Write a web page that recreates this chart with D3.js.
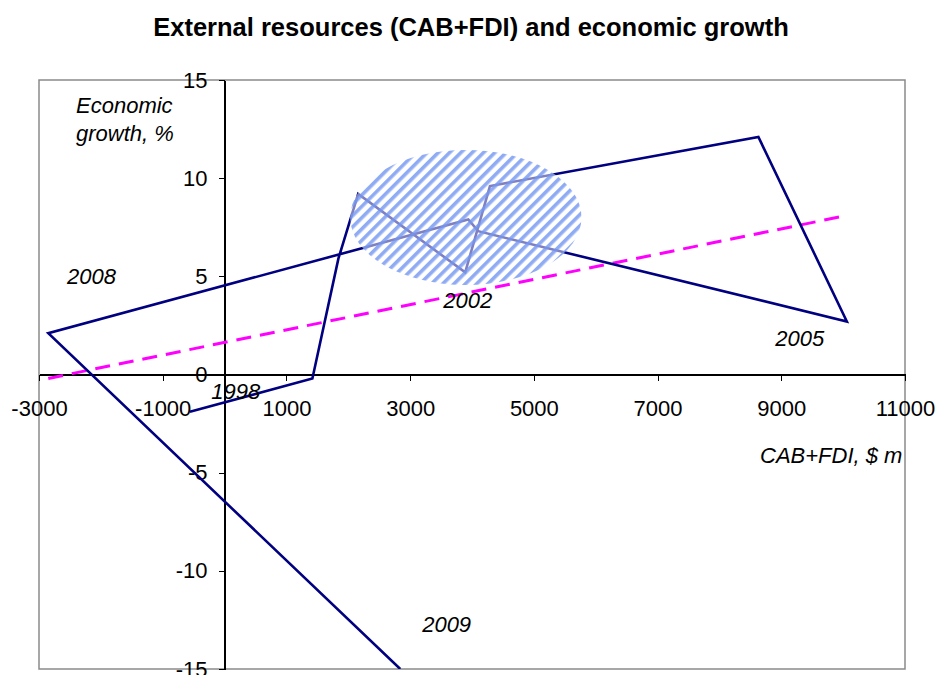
<!DOCTYPE html>
<html>
<head>
<meta charset="utf-8">
<script src="https://cdn.jsdelivr.net/npm/d3@7"></script>
<style>
  html, body { margin: 0; padding: 0; background: #fff; }
  svg { display: block; font-family: Arial, "Liberation Sans", sans-serif; }
</style>
</head>
<body>
<svg id="chart" width="937" height="675"></svg>
<script>
// ---- Data ----
const years   = [1998, 1999, 2000, 2001, 2002, 2003, 2004, 2005, 2006, 2007, 2008, 2009];
const cabFdi  = [-560, 1420, 1840, 2160, 3890, 4290, 8630, 10060, 4100, 3940, -2850, 2840];
const growth  = [-1.9, -0.2, 5.9, 9.2, 5.2, 9.6, 12.1, 2.7, 7.3, 7.9, 2.1, -15.0];

const trendX = [-2850, 10060];
const trendY = [-0.2, 8.1];

const xTicks = [-3000, -1000, 1000, 3000, 5000, 7000, 9000, 11000];
const yTicks = [-15, -10, -5, 0, 5, 10, 15];

const yearLabels  = ["2008", "1998", "2002", "2005", "2009"];
const yearLabelX  = [-2150, 180, 3930, 9300, 3590];
const yearLabelY  = [4.6, -1.25, 3.4, 1.45, -13.1];

const ellipseCenter = [3900, 8.0];
const ellipseRadii  = [1870, 3.44];

const titleText = "External resources (CAB+FDI) and economic growth";
const yTitle = ["Economic", "growth, %"];
const xTitle = "CAB+FDI, $ m";

// ---- Layout ----
const svg = d3.select("#chart");
const pLeft = 39, pRight = 905, pTop = 80, pBottom = 669;
const x = d3.scaleLinear().domain([-3000, 11000]).range([pLeft, pRight]);
const y = d3.scaleLinear().domain([-15, 15]).range([pBottom, pTop]);

const defs = svg.append("defs");
defs.append("clipPath").attr("id", "plotClip")
  .append("rect").attr("x", pLeft).attr("y", pTop)
  .attr("width", pRight - pLeft).attr("height", pBottom - pTop);

const pat = defs.append("pattern").attr("id", "hatch")
  .attr("patternUnits", "userSpaceOnUse")
  .attr("width", 8).attr("height", 8)
  .attr("patternTransform", "rotate(45)");
pat.append("rect").attr("width", 8).attr("height", 8).attr("fill", "#ffffff").attr("fill-opacity", 0.5);
pat.append("rect").attr("x", 0).attr("width", 3.6).attr("height", 8).attr("fill", "#7396f0").attr("fill-opacity", 0.8);

// Title
svg.append("text").attr("x", 471).attr("y", 36)
  .attr("text-anchor", "middle").attr("font-weight", "bold")
  .attr("font-size", 25.5).attr("fill", "#000").text(titleText);

// Plot border
svg.append("rect").attr("x", pLeft).attr("y", pTop)
  .attr("width", pRight - pLeft).attr("height", pBottom - pTop)
  .attr("fill", "none").attr("stroke", "#8a8a8a").attr("stroke-width", 1.5);

// Axes
const xAxis = d3.axisBottom(x).tickValues(xTicks).tickSize(6).tickPadding(20)
  .tickSizeOuter(0);
const gx = svg.append("g").attr("transform", `translate(0,${y(0)})`).call(xAxis);
gx.select(".domain").attr("stroke", "#000").attr("stroke-width", 1.2);
gx.selectAll(".tick line").attr("stroke", "#000");
gx.selectAll(".tick text").attr("font-size", 22).attr("fill", "#000")
  .attr("font-family", "Arial, 'Liberation Sans', sans-serif")
  .text(d => d < 0 ? "-" + Math.abs(d) : String(d));

const yAxis = d3.axisLeft(y).tickValues(yTicks).tickSize(6).tickPadding(11)
  .tickSizeOuter(0);
const gy = svg.append("g").attr("transform", `translate(${x(0)},0)`).call(yAxis);
gy.select(".domain").attr("stroke", "#000").attr("stroke-width", 1.2);
gy.selectAll(".tick line").attr("stroke", "#000");
gy.selectAll(".tick text").attr("font-size", 22).attr("fill", "#000")
  .attr("font-family", "Arial, 'Liberation Sans', sans-serif")
  .text(d => d < 0 ? "-" + Math.abs(d) : String(d));
svg.selectAll(".domain, .tick line").attr("shape-rendering", "crispEdges");

// Data group clipped
const plot = svg.append("g").attr("clip-path", "url(#plotClip)");

// Trend line
plot.append("path")
  .datum(trendX.map((d, i) => [d, trendY[i]]))
  .attr("d", d3.line().x(d => x(d[0])).y(d => y(d[1])))
  .attr("fill", "none").attr("stroke", "#ff00ff").attr("stroke-width", 3)
  .attr("stroke-dasharray", "15,9");

// Main path
plot.append("path")
  .datum(years.map((yr, i) => [cabFdi[i], growth[i]]))
  .attr("d", d3.line().x(d => x(d[0])).y(d => y(d[1])))
  .attr("fill", "none").attr("stroke", "#000080").attr("stroke-width", 2.6)
  .attr("stroke-linejoin", "miter");

// Hatched ellipse
plot.append("ellipse")
  .attr("cx", x(ellipseCenter[0])).attr("cy", y(ellipseCenter[1]))
  .attr("rx", x(ellipseCenter[0] + ellipseRadii[0]) - x(ellipseCenter[0]))
  .attr("ry", y(ellipseCenter[1]) - y(ellipseCenter[1] + ellipseRadii[1]))
  .attr("fill", "url(#hatch)");

// Year labels
svg.append("g").selectAll("text").data(yearLabels).join("text")
  .attr("x", (d, i) => x(yearLabelX[i])).attr("y", (d, i) => y(yearLabelY[i]))
  .attr("text-anchor", "middle").attr("font-style", "italic")
  .attr("font-size", 22).attr("fill", "#000").text(d => d);

// Axis titles
svg.append("g").selectAll("text").data(yTitle).join("text")
  .attr("x", 76).attr("y", (d, i) => 113 + i * 28)
  .attr("font-style", "italic").attr("font-size", 22).attr("fill", "#000")
  .text(d => d);
svg.append("text").attr("x", 760).attr("y", 463)
  .attr("font-style", "italic").attr("font-size", 22).attr("fill", "#000")
  .text(xTitle);
</script>
</body>
</html>
